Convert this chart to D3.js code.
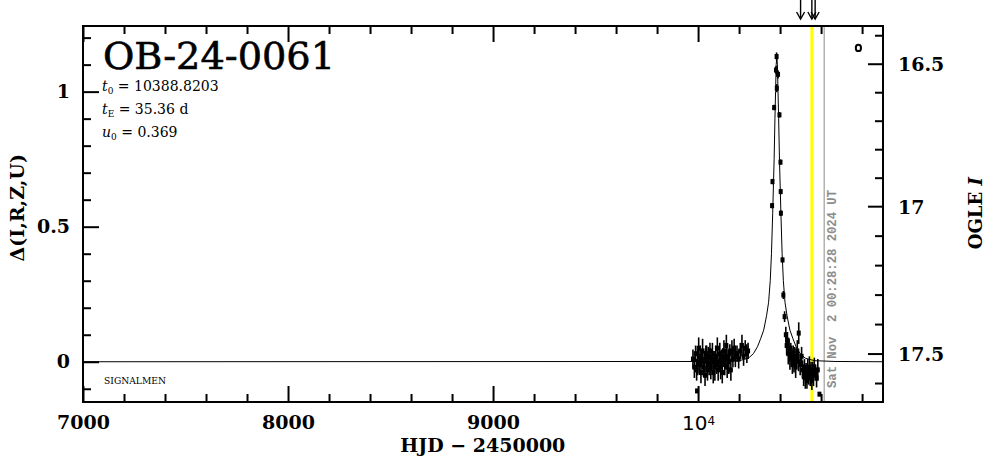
<!DOCTYPE html>
<html><head><meta charset="utf-8">
<script src="https://cdn.jsdelivr.net/npm/d3@7"></script>
<style>html,body{margin:0;padding:0;background:#fff;}svg{display:block;}</style>
</head><body>
<svg id="c" width="986" height="459"></svg>
<script>
// ---------- data ----------
const eventName = "OB-24-0061";
const paramT0 = "10388.8203";
const paramTE = "35.36";
const paramU0 = "0.369";
const xMajorTicks = [7000, 8000, 9000, 10000];
const yMajorTicks = [0, 0.5, 1];
const magMajorTicks = [16.5, 17, 17.5];
const magCalib = [16.5, 17, 17.5];          // magnitudes
const magCalibDelta = [1.1015, 0.5741, 0.0285]; // matching Δ values
// model curve
const modelT = [7000,10100,10200,10245,10270,10290,10305,10320,10334,10344,10352,10358,10364,10371,10375,10378,10381,10384,10387,10390,10393,10397,10404,10410,10416,10424,10434,10448,10463,10478,10498,10523,10568,10668,10902];
const modelDelta = [0,0.001,0.004,0.013,0.03,0.056,0.085,0.117,0.17,0.22,0.3,0.4,0.55,0.75,0.9,1.0,1.1,1.125,1.1,1.0,0.9,0.75,0.55,0.4,0.3,0.22,0.17,0.117,0.085,0.056,0.03,0.013,0.004,0.001,0];
// observations
const obsT = [9975,9982,9988,9993,9995,9998,10003,10006,10010,10014,10018,10022,10026,10030,10034,10038,10042,10046,10050,10054,10058,10062,10066,10070,10074,10078,10082,10086,10090,10094,10098,10102,10106,10110,10114,10118,10122,10126,10130,10134,10138,10142,10146,10150,10155,10160,10165,10170,10176,10182,10190,10198,10206,10214,10222,10230,10238,10244,
 10361,10363,10371,10380,10383,10384,10390,10397,10402,10403,10404,10412,10416,10422,
 10428,10432,10436,10440,10444,10448,10452,10456,10460,10464,10468,10472,10476,10480,10484,10490,10491,10498,10505,
 10510,10515,10519,10523,10527,10531,10535,10539,10543,10547,10551,10555,10559,10563,10567,10572,10578,10584,10592];
const obsDelta = [0.01,-0.02,0.03,-0.03,-0.108,0.00,0.05,-0.01,0.02,-0.04,0.01,0.04,-0.02,0.00,-0.05,0.03,0.01,-0.03,0.02,-0.01,0.04,-0.02,0.00,0.03,-0.04,0.01,-0.02,0.02,-0.01,0.05,-0.03,0.00,0.03,-0.02,0.01,-0.04,0.02,0.04,-0.01,0.01,0.06,-0.02,0.02,0.00,0.03,-0.03,0.04,0.01,0.05,0.02,0.03,0.01,0.04,0.06,0.02,0.05,0.03,0.04,
 0.578,0.667,0.941,1.080,1.130,1.013,1.064,0.914,0.739,0.630,0.550,0.377,0.247,0.167,
 0.10,0.06,0.08,0.03,0.05,0.01,0.04,0.02,-0.01,0.03,0.00,0.02,-0.02,0.01,0.04,0.00,0.106,-0.01,0.02,
 -0.03,-0.05,-0.02,-0.06,-0.04,-0.07,-0.03,-0.05,-0.02,-0.06,-0.04,-0.07,-0.03,-0.05,-0.02,-0.04,-0.06,-0.03,-0.12];
const obsErr = [0.035,0.04,0.03,0.04,0.006,0.05,0.04,0.035,0.04,0.04,0.03,0.045,0.035,0.04,0.04,0.03,0.05,0.04,0.035,0.04,0.03,0.045,0.035,0.04,0.04,0.03,0.05,0.04,0.035,0.04,0.04,0.03,0.04,0.045,0.035,0.04,0.03,0.04,0.04,0.035,0.04,0.04,0.03,0.045,0.035,0.04,0.04,0.03,0.035,0.04,0.03,0.035,0.03,0.04,0.035,0.03,0.035,0.03,
 0.01,0.01,0.01,0.015,0.015,0.015,0.015,0.01,0.01,0.01,0.01,0.01,0.015,0.02,
 0.03,0.035,0.03,0.04,0.035,0.04,0.03,0.04,0.035,0.03,0.04,0.035,0.04,0.03,0.04,0.035,0.04,0.04,0.035,
 0.035,0.04,0.03,0.04,0.035,0.03,0.04,0.035,0.04,0.03,0.04,0.035,0.03,0.04,0.035,0.03,0.035,0.04,0.006];
const extraMarkT = [10782];
const extraMarkDelta = [1.162];
const nowT = 10555;       // yellow line
const otherLineT = 10615; // gray line
const arrowT = [10500, 10555, 10571];
const dateLabel = "Sat Nov  2 00:28:28 2024 UT";
const signalmenLabel = "SIGNALMEN";

// ---------- layout ----------
const L = 83, R = 883, T = 26, B = 402;
const svg = d3.select("#c");
const x = d3.scaleLinear().domain([7000, 10902]).range([L, R]);
const y = d3.scaleLinear().domain([-0.149, 1.243]).range([B, T]);
const magToDelta = d3.scaleLinear().domain(magCalib).range(magCalibDelta);
const serif = "DejaVu Serif";

// vertical lines
svg.append("line").attr("x1", x(nowT)).attr("x2", x(nowT)).attr("y1", T).attr("y2", B)
  .attr("stroke", "#ffff00").attr("stroke-width", 3);
svg.append("line").attr("x1", x(otherLineT)).attr("x2", x(otherLineT)).attr("y1", T).attr("y2", B)
  .attr("stroke", "#8c8c8c").attr("stroke-width", 1);

// date label
svg.append("text").attr("transform", `translate(${x(otherLineT)+12},${B-14}) rotate(-90)`)
  .attr("font-family", "Liberation Mono").attr("font-weight", "bold").attr("font-size", 13)
  .attr("fill", "#8c8c8c").attr("xml:space", "preserve").style("white-space", "pre")
  .attr("textLength", 198).attr("lengthAdjust", "spacingAndGlyphs").text(dateLabel);

// model curve
const line = d3.line().x((d, i) => x(d)).y((d, i) => y(modelDelta[i]));
svg.append("path").attr("d", line(modelT)).attr("fill", "none").attr("stroke", "#000").attr("stroke-width", 1);

// observations
const g = svg.append("g");
obsT.forEach((t, i) => {
  const cx = x(t), cy = y(obsDelta[i]);
  g.append("line").attr("x1", cx).attr("x2", cx).attr("y1", y(obsDelta[i] + obsErr[i])).attr("y2", y(obsDelta[i] - obsErr[i]))
    .attr("stroke", "#000").attr("stroke-width", 1.6);
  g.append("rect").attr("x", cx - 2).attr("y", cy - 2.5).attr("width", 4).attr("height", 5).attr("fill", "#000");
});
extraMarkT.forEach((t, i) => {
  svg.append("ellipse").attr("cx", x(t)).attr("cy", y(extraMarkDelta[i])).attr("rx", 2.6).attr("ry", 3.2)
    .attr("fill", "none").attr("stroke", "#000").attr("stroke-width", 2);
});

// arrows
arrowT.forEach(t => {
  const ax = x(t);
  svg.append("line").attr("x1", ax).attr("x2", ax).attr("y1", 0).attr("y2", 19).attr("stroke", "#000").attr("stroke-width", 1.4);
  svg.append("path").attr("d", `M${ax-4},12L${ax},19L${ax+4},12`).attr("fill", "none").attr("stroke", "#000").attr("stroke-width", 1.4);
});

// axes
function styleAxis(sel) {
  sel.select(".domain").remove();
  sel.selectAll(".tick line").attr("stroke", "#000").attr("stroke-width", 2);
  sel.selectAll("text").attr("font-family", serif).attr("font-weight", "bold").attr("font-size", 19).attr("fill", "#000");
}
const xMinor = d3.range(7200, 10901, 200).filter(v => v % 1000 !== 0);
svg.append("g").attr("transform", `translate(0,${B})`).call(d3.axisBottom(x).tickValues(xMinor).tickSize(-8).tickFormat("")).call(styleAxis);
svg.append("g").attr("transform", `translate(0,${T})`).call(d3.axisTop(x).tickValues(xMinor).tickSize(-8).tickFormat("")).call(styleAxis);
svg.append("g").attr("transform", `translate(0,${T})`).call(d3.axisTop(x).tickValues(xMajorTicks).tickSize(-16).tickFormat("")).call(styleAxis);
const xb = svg.append("g").attr("transform", `translate(0,${B})`)
  .call(d3.axisBottom(x).tickValues(xMajorTicks).tickSize(-16).tickPadding(12).tickFormat(d3.format("d"))).call(styleAxis);
xb.selectAll(".tick text").attr("dy", "0.71em").attr("y", 14);
xb.selectAll(".tick text").filter(d => d === 10000).each(function() {
  const t = d3.select(this); t.text(null);
  t.attr("font-family", "DejaVu Sans").attr("font-weight", "normal").attr("font-size", 20);
  t.append("tspan").text("10");
  t.append("tspan").attr("dy", "-0.45em").attr("font-size", 12).text("4");
});

const yMinor = d3.range(-1, 13).map(v => v / 10).filter(v => v > -0.149 && v < 1.243 && Math.abs(v * 2 - Math.round(v * 2)) > 1e-6);
svg.append("g").attr("transform", `translate(${L},0)`).call(d3.axisLeft(y).tickValues(yMinor).tickSize(-8).tickFormat("")).call(styleAxis);
const yl = svg.append("g").attr("transform", `translate(${L},0)`)
  .call(d3.axisLeft(y).tickValues(yMajorTicks).tickSize(-16).tickPadding(13).tickFormat(d => d === 0.5 ? "0.5" : d3.format("d")(d))).call(styleAxis);

// right axis (OGLE I)
const magMinor = d3.range(164, 177).map(v => v / 10).filter(v => Math.abs(v * 2 - Math.round(v * 2)) > 1e-6);
const yMag = v => y(magToDelta(v));
const rg = svg.append("g");
magMinor.forEach(m => rg.append("line").attr("x1", R - 8).attr("x2", R).attr("y1", yMag(m)).attr("y2", yMag(m)).attr("stroke", "#000").attr("stroke-width", 2));
magMajorTicks.forEach(m => {
  rg.append("line").attr("x1", R - 15).attr("x2", R).attr("y1", yMag(m)).attr("y2", yMag(m)).attr("stroke", "#000").attr("stroke-width", 2);
  rg.append("text").attr("x", R + 15).attr("y", yMag(m)).attr("dy", "0.36em")
    .attr("font-family", serif).attr("font-weight", "bold").attr("font-size", 19).text(d3.format("")(m));
});

// frame
svg.append("rect").attr("x", L).attr("y", T).attr("width", R - L).attr("height", B - T)
  .attr("fill", "none").attr("stroke", "#000").attr("stroke-width", 2);

// axis titles
svg.append("text").attr("x", x(8950)).attr("y", 452).attr("text-anchor", "middle")
  .attr("font-family", serif).attr("font-weight", "bold").attr("font-size", 19)
  .attr("xml:space", "preserve").style("white-space", "pre").text("HJD \u2212 2450000");
svg.append("text").attr("transform", `translate(24,${y(0.57)}) rotate(-90)`).attr("text-anchor", "middle")
  .attr("font-family", serif).attr("font-weight", "bold").attr("font-size", 19).text("\u0394(I,R,Z,U)");
const ot = svg.append("text").attr("transform", `translate(982,${y(0.55)}) rotate(-90)`).attr("text-anchor", "middle")
  .attr("font-family", serif).attr("font-weight", "bold").attr("font-size", 18);
ot.append("tspan").text("OGLE ");
ot.append("tspan").attr("font-style", "italic").text("I");

// title and parameters
svg.append("text").attr("x", 103).attr("y", 69).attr("font-family", serif).attr("font-size", 38)
  .attr("stroke", "#000").attr("stroke-width", 0.6)
  .attr("textLength", 232).attr("lengthAdjust", "spacingAndGlyphs").text(eventName);
function param(yPos, sym, sub, val) {
  const t = svg.append("text").attr("x", 102).attr("y", yPos).attr("font-family", serif).attr("font-size", 14)
    .attr("xml:space", "preserve").style("white-space", "pre");
  t.append("tspan").attr("font-style", "italic").text(sym);
  t.append("tspan").attr("font-size", 9).attr("dy", 3).text(sub);
  t.append("tspan").attr("dy", -3).text(" = " + val);
}
param(91, "t", "0", paramT0);
param(114, "t", "E", paramTE + " d");
param(137, "u", "0", paramU0);

svg.append("text").attr("x", 104).attr("y", 384).attr("font-family", serif).attr("font-size", 9)
  .attr("textLength", 62).attr("lengthAdjust", "spacingAndGlyphs").text(signalmenLabel);
</script>
</body></html>
